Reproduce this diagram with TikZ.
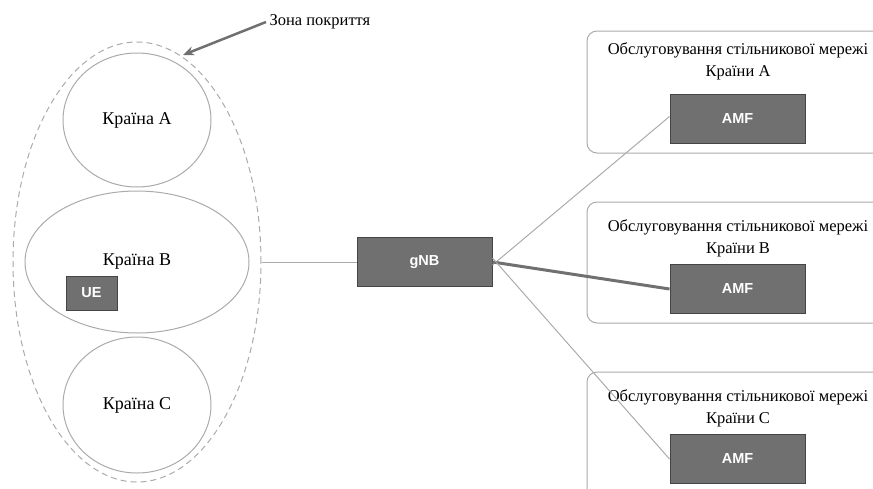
\documentclass[tikz,border=0pt]{standalone}
\usepackage{fontspec}
\setmainfont{Liberation Serif}
\setsansfont{Liberation Sans}
\usetikzlibrary{shapes.geometric,arrows.meta}
\definecolor{boxgray}{HTML}{707070}
\definecolor{edgegray}{HTML}{454545}
\definecolor{linegray}{HTML}{ABABAB}
\begin{document}
\begin{tikzpicture}[x=1pt,y=-1pt,
  country/.style={ellipse, draw=linegray, line width=1pt, inner sep=0pt, font=\fontsize{18}{20}\selectfont},
  netbox/.style={draw=edgegray, fill=boxgray, line width=1pt, inner sep=0pt, text=white, font=\sffamily\bfseries\fontsize{14.5}{16}\selectfont},
  servbox/.style={draw=linegray, rounded corners=10pt, line width=1pt},
  link/.style={draw=linegray, line width=1pt}]
\useasboundingbox (0,0) rectangle (873,488);
\clip (0,0) rectangle (873,488);
% coverage zone with the three countries
\node[ellipse, draw=linegray, dash pattern=on 6pt off 4pt, line width=1pt, minimum width=248pt, minimum height=440pt] (zone) at (137,262) {};
\node[country, minimum width=148pt, minimum height=134pt] (cA) at (137,120) {Країна А};
\node[country, minimum width=224pt, minimum height=142pt] (cB) at (137,262) {\raisebox{4pt}{Країна В}};
\node[country, minimum width=148pt, minimum height=136pt] (cC) at (137,405) {Країна С};
\node[netbox, minimum width=51pt, minimum height=34pt] (ue) at (91.5,293) {UE};
\node[font=\fontsize{16.5}{18}\selectfont, anchor=west] (zlabel) at (266,22) {Зона покриття};
\coordinate (ztip) at (183,55);
\draw[-{Stealth[length=11pt,width=9pt]}, draw=boxgray, line width=2.5pt] (zlabel.west) -- (ztip);
% gNB
\node[netbox, minimum width=135pt, minimum height=49pt] (gnb) at (424.5,262) {gNB};
\draw[link] (zone.east) -- (gnb.west);
% serving networks
\draw[servbox] (587,31) rectangle (900,153);
\draw[servbox] (587,202) rectangle (900,323);
\draw[servbox] (587,372) rectangle (900,500);
\node[align=center, font=\fontsize{16.5}{22}\selectfont] (tA) at (738,61) {Обслуговування стільникової мережі\\Країни А};
\node[align=center, font=\fontsize{16.5}{22}\selectfont] (tB) at (738,238) {Обслуговування стільникової мережі\\Країни В};
\node[align=center, font=\fontsize{16.5}{22}\selectfont] (tC) at (738,408) {Обслуговування стільникової мережі\\Країни С};
\node[netbox, minimum width=135pt, minimum height=49pt] (amfA) at (737.5,118.5) {AMF};
\node[netbox, minimum width=135pt, minimum height=49pt] (amfB) at (737.5,289) {AMF};
\node[netbox, minimum width=135pt, minimum height=49pt] (amfC) at (737.5,459) {AMF};
\draw[link] ([yshift=-3pt]gnb.east) -- ([yshift=2pt]amfA.west);
\draw[draw=boxgray, line width=3pt] (gnb.east) -- (amfB.west);
\draw[link] ([yshift=4pt]gnb.east) -- (amfC.west);
\end{tikzpicture}
\end{document}
